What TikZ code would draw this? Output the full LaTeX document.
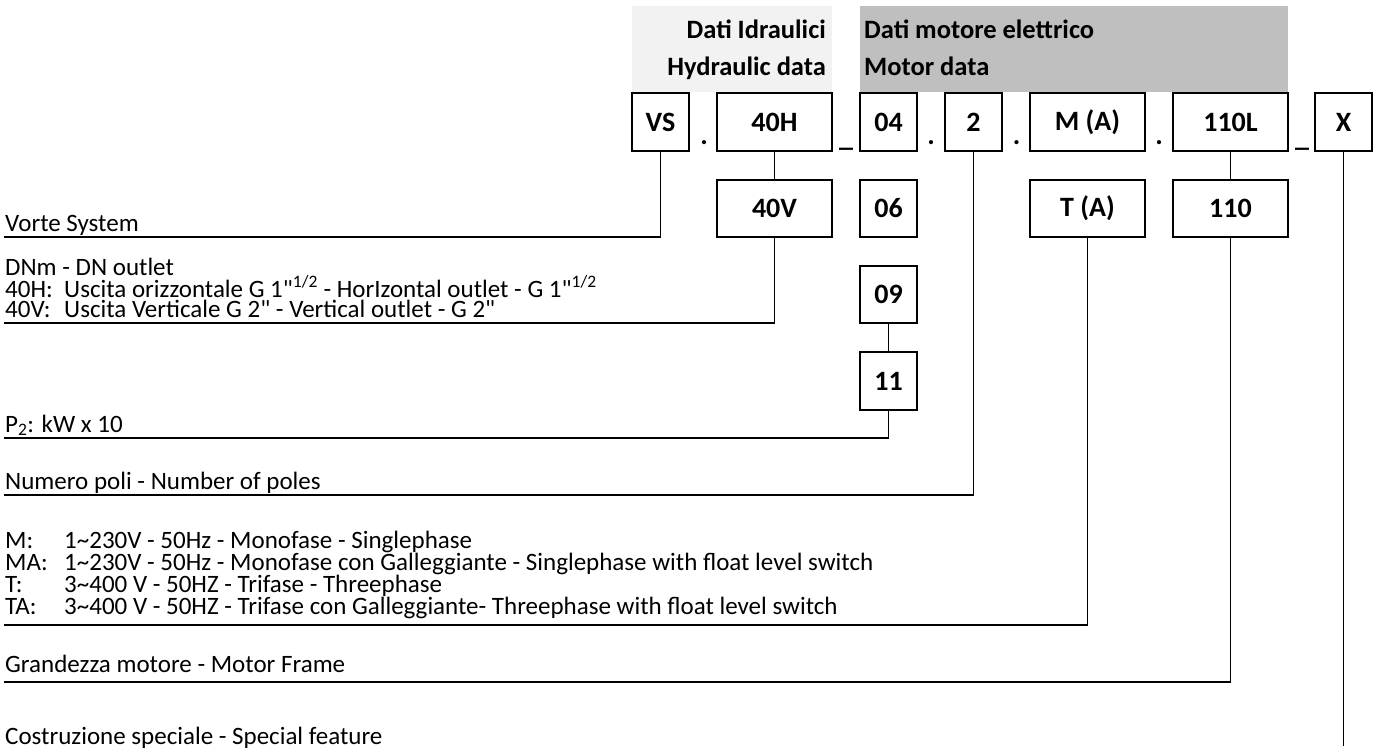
\documentclass[tikz,border=0pt]{standalone}
\usepackage{fontspec}
\setmainfont{Carlito}[Ligatures=TeXOff]
\definecolor{lightbg}{HTML}{F2F2F2}
\definecolor{darkbg}{HTML}{BFBFBF}
\newcommand{\bodyfont}{\fontsize{25}{29}\selectfont}
\tikzset{
  codebox/.style={draw, line width=1.2pt, inner sep=0pt, minimum height=58pt, font=\fontsize{28}{32}\selectfont\bfseries},
  sq/.style={codebox, minimum width=57pt},
  wide/.style={codebox, minimum width=115pt},
  lbl/.style={anchor=base west, inner sep=0pt, font=\bodyfont},
  hdr/.style={inner sep=0pt, font=\fontsize{26.5}{30}\selectfont\bfseries},
  sep/.style={anchor=base, inner sep=0pt, font=\fontsize{28}{32}\selectfont\bfseries},
  conn/.style={line width=1.2pt}
}
\begin{document}
\begin{tikzpicture}[x=1pt,y=-1pt]
\useasboundingbox (0,0) rectangle (1373,754);
% header backgrounds
\fill[lightbg] (632,6) rectangle (832,92);
\fill[darkbg] (860,6) rectangle (1288,92);
\node[hdr, anchor=base east] (h1) at (826,39) {Dati Idraulici};
\node[hdr, anchor=base east] (h2) at (826,76) {Hydraulic data};
\node[hdr, anchor=base west] (h3) at (864,39) {Dati motore elettrico};
\node[hdr, anchor=base west] (h4) at (864,76) {Motor data};
% row 1
\node[sq] (vs) at (660.5,122) {VS};
\node[wide] (h40) at (774.5,122) {40H};
\node[sq] (p04) at (888.5,122) {04};
\node[sq] (p2) at (973.5,122) {2};
\node[wide] (ma) at (1087.5,122) {M (A)};
\node[wide] (f110l) at (1230.5,122) {110L};
\node[sq] (x) at (1343.5,122) {X};
% separators
\node[sep] (s1) at (704,145) {.};
\node[sep] (s2) at (846,147) {\_};
\node[sep] (s3) at (931,145) {.};
\node[sep] (s4) at (1016.5,145) {.};
\node[sep] (s5) at (1159,145) {.};
\node[sep] (s6) at (1302,147) {\_};
% row 2
\node[wide, minimum height=57pt] (v40) at (774.5,208.5) {40V};
\node[sq, minimum height=57pt] (p06) at (888.5,208.5) {06};
\node[wide, minimum height=57pt] (ta) at (1087.5,208.5) {T (A)};
\node[wide, minimum height=57pt] (f110) at (1230.5,208.5) {110};
\node[sq, minimum height=57pt] (p09) at (888.5,294.5) {09};
\node[sq] (p11) at (888.5,381) {11};
% end points
\coordinate (e1) at (4,237);
\coordinate (e2) at (4,323);
\coordinate (e3) at (4,438);
\coordinate (e4) at (4,495);
\coordinate (e5) at (4,625);
\coordinate (e6) at (4,682);
\coordinate (e7) at (1343.5,746);
% connectors
\draw[conn] (vs.south) |- (e1);
\draw[conn] (h40.south) -- (v40.north);
\draw[conn] (v40.south) |- (e2);
\draw[conn] (p09.south) -- (p11.north);
\draw[conn] (p11.south) |- (e3);
\draw[conn] (p2.south) |- (e4);
\draw[conn] (ta.south) |- (e5);
\draw[conn] (f110l.south) -- (f110.north);
\draw[conn] (f110.south) |- (e6);
\draw[conn] (x.south) -- (e7);
% labels
\node[lbl] (t1) at (5,231) {Vorte System};
\node[lbl] (t2) at (5,275) {DNm - DN outlet};
\node[lbl] (t3a) at (5,297) {40H:};
\node[lbl] (t3b) at (64,297) {Uscita orizzontale G 1"\textsuperscript{1/2} - HorIzontal outlet - G 1"\textsuperscript{1/2}};
\node[lbl] (t4a) at (5,317) {40V:};
\node[lbl] (t4b) at (64,317) {Uscita Verticale G 2" - Vertical outlet - G 2"};
\node[lbl] (t5) at (5,432) {P\textsubscript{2}: kW x 10};
\node[lbl] (t6) at (5,489) {Numero poli - Number of poles};
\node[lbl] (t7a) at (5,548) {M:};
\node[lbl] (t7b) at (64,548) {1\textasciitilde230V - 50Hz - Monofase - Singlephase};
\node[lbl] (t8a) at (5,570) {MA:};
\node[lbl] (t8b) at (64,570) {1\textasciitilde230V - 50Hz - Monofase con Galleggiante - Singlephase with float level switch};
\node[lbl] (t9a) at (5,592) {T:};
\node[lbl] (t9b) at (64,592) {3\textasciitilde400 V - 50HZ - Trifase - Threephase};
\node[lbl] (t10a) at (5,614) {TA:};
\node[lbl] (t10b) at (64,614) {3\textasciitilde400 V - 50HZ - Trifase con Galleggiante- Threephase with float level switch};
\node[lbl] (t11) at (5,672) {Grandezza motore - Motor Frame};
\node[lbl] (t12) at (5,744) {Costruzione speciale - Special feature};
\end{tikzpicture}
\end{document}
